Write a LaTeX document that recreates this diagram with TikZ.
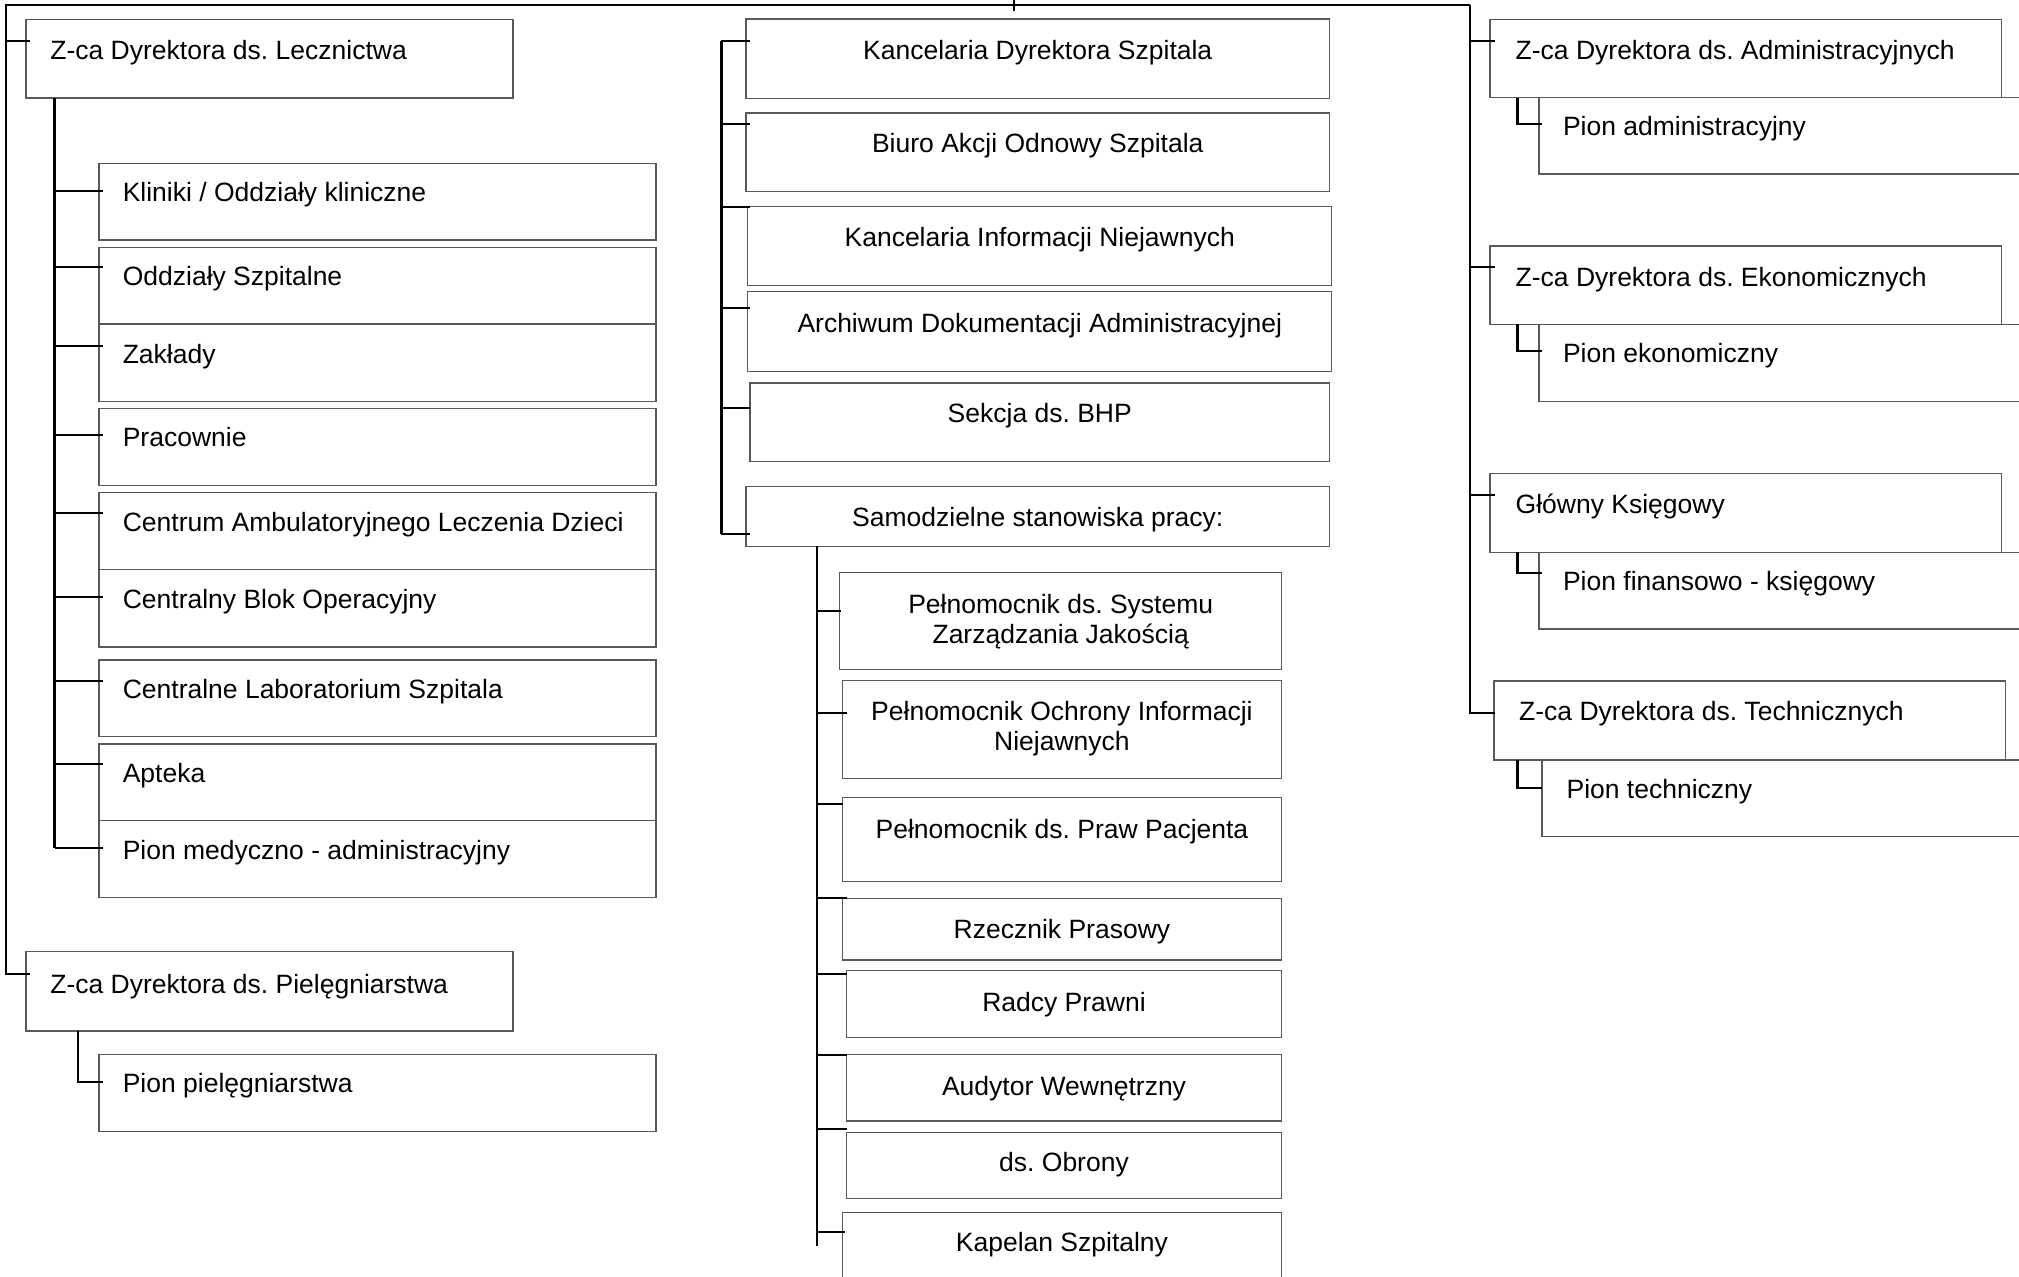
\documentclass[tikz,border=0pt]{standalone}
\usepackage{fontspec}
\setmainfont{Liberation Sans}
\frenchspacing
\tikzset{
  box/.style={draw=black!65, line width=1.3pt, rectangle, inner sep=0pt, outer sep=0pt},
  txt/.style={inner sep=0pt, outer sep=0pt, font=\fontsize{26.5}{31}\selectfont\frenchspacing, text=black},
  conn/.style={draw=black, line width=2.3pt},
}
\newcommand\mybx[5]{\node[box, anchor=north west, minimum width={(#4-(#2))*1pt}, minimum height={(#5-(#3))*1pt}] (#1) at (#2,#3) {};}
\newcommand\tlab[4]{\node[txt, anchor=base west] (#1) at (#2,#3) {#4};}
\newcommand\tcen[4]{\node[txt, anchor=base] (#1) at (#2,#3) {#4};}
\newcommand\mystub[3]{\coordinate (#1-c) at (#3); \draw[conn] (#1-c -| #2) -- (#1-c);}
\begin{document}
\begin{tikzpicture}[x=1pt,y=-1pt]
\useasboundingbox (0,0) rectangle (2019,1277);
\clip (0,0) rectangle (2019,1277);
% ---------------- left column ----------------
\mybx{lecz}{26}{19.3}{513}{98}
\tlab{t-lecz}{50.4}{59.3}{Z-ca Dyrektora ds. Lecznictwa}
\mybx{kl}{99}{163.3}{656}{240}
\tlab{t-kl}{122.8}{201.8}{Kliniki / Oddziały kliniczne}
\mybx{od}{99}{247.3}{656}{324}
\tlab{t-od}{122.8}{285.5}{Oddziały Szpitalne}
\mybx{za}{99}{324}{656}{401.7}
\tlab{t-za}{122.8}{363.3}{Zakłady}
\mybx{pr}{99}{408.3}{656}{485.7}
\tlab{t-pr}{122.8}{446.7}{Pracownie}
\mybx{ce}{99}{492.7}{656}{569.3}
\tlab{t-ce}{122.8}{531}{Centrum Ambulatoryjnego Leczenia Dzieci}
\mybx{cb}{99}{569.3}{656}{647}
\tlab{t-cb}{122.8}{608.3}{Centralny Blok Operacyjny}
\mybx{cl}{99}{660}{656}{736.7}
\tlab{t-cl}{122.8}{698.3}{Centralne Laboratorium Szpitala}
\mybx{ap}{99}{744}{656}{820.7}
\tlab{t-ap}{122.8}{782.3}{Apteka}
\mybx{pm}{99}{820.7}{656}{897.3}
\tlab{t-pm}{122.8}{859.3}{Pion medyczno - administracyjny}
\mybx{piel}{26}{951.7}{513}{1031}
\tlab{t-piel}{50.4}{993}{Z-ca Dyrektora ds. Pielęgniarstwa}
\mybx{pp}{99}{1054.3}{656}{1131.7}
\tlab{t-pp}{122.8}{1092}{Pion pielęgniarstwa}
% ---------------- middle column ----------------
\mybx{kd}{746}{19}{1329.5}{98.2}
\tcen{t-kd}{1037.75}{59}{Kancelaria Dyrektora Szpitala}
\mybx{ba}{746}{112.9}{1329.5}{191.8}
\tcen{t-ba}{1037.75}{152.9}{Biuro Akcji Odnowy Szpitala}
\mybx{ki}{747.8}{206.4}{1331.7}{285.7}
\tcen{t-ki}{1039.75}{246.4}{Kancelaria Informacji Niejawnych}
\mybx{ar}{747.8}{291.8}{1331.7}{371.4}
\tcen{t-ar}{1039.75}{332}{Archiwum Dokumentacji Administracyjnej}
\mybx{bhp}{750}{382.9}{1329.5}{461.8}
\tcen{t-bhp}{1039.75}{422.5}{Sekcja ds. BHP}
\mybx{sa}{746}{486.4}{1329.5}{546.4}
\tcen{t-sa}{1037.75}{526.8}{Samodzielne stanowiska pracy:}
\mybx{p1}{839.7}{572.7}{1281.7}{669.3}
\tcen{t-p1a}{1060.7}{613.3}{Pełnomocnik ds. Systemu}
\tcen{t-p1b}{1060.7}{643.3}{Zarządzania Jakością}
\mybx{p2}{842.2}{680.7}{1281.7}{778.7}
\tcen{t-p2a}{1061.95}{720}{Pełnomocnik Ochrony Informacji}
\tcen{t-p2b}{1061.95}{750.7}{Niejawnych}
\mybx{p3}{842.2}{797.3}{1281.7}{881.7}
\tcen{t-p3}{1061.95}{838.3}{Pełnomocnik ds. Praw Pacjenta}
\mybx{rz}{842.2}{898.3}{1281.7}{960}
\tcen{t-rz}{1061.95}{938.3}{Rzecznik Prasowy}
\mybx{rp}{846.3}{970.7}{1281.7}{1037.7}
\tcen{t-rp}{1064}{1011.7}{Radcy Prawni}
\mybx{au}{846.3}{1054.3}{1281.7}{1121}
\tcen{t-au}{1064}{1095}{Audytor Wewnętrzny}
\mybx{ob}{846.3}{1132.7}{1281.7}{1198.3}
\tcen{t-ob}{1064}{1171.7}{ds. Obrony}
\mybx{kp}{842.2}{1212.7}{1281.7}{1300}
\tcen{t-kp}{1061.95}{1251.7}{Kapelan Szpitalny}
% ---------------- right column ----------------
\mybx{zad}{1490}{19.3}{2001.3}{97.7}
\tlab{t-zad}{1515.7}{59.3}{Z-ca Dyrektora ds. Administracyjnych}
\mybx{pad}{1539}{97.7}{2040}{174}
\tlab{t-pad}{1563}{135}{Pion administracyjny}
\mybx{zek}{1490}{246}{2001.3}{324.3}
\tlab{t-zek}{1515.7}{286}{Z-ca Dyrektora ds. Ekonomicznych}
\mybx{pek}{1539}{324.3}{2040}{401.7}
\tlab{t-pek}{1563}{362.7}{Pion ekonomiczny}
\mybx{gk}{1490}{473.3}{2001.3}{552.3}
\tlab{t-gk}{1515.7}{513.5}{Główny Księgowy}
\mybx{pf}{1539}{552.3}{2040}{629}
\tlab{t-pf}{1563}{590.7}{Pion finansowo - księgowy}
\mybx{zt}{1494}{681}{2005.2}{760}
\tlab{t-zt}{1519.2}{720}{Z-ca Dyrektora ds. Technicznych}
\mybx{pt}{1542}{760}{2040}{836.7}
\tlab{t-pt}{1566.6}{798.3}{Pion techniczny}
% ---------------- connectors ----------------
\coordinate (topL) at (6,5);
\coordinate (topR) at (1470.3,5);
\coordinate (tickT) at (1014,0);
\coordinate (tickB) at (1014,11);
\draw[conn] (tickT) -- (tickB);
% left trunk
\coordinate (lecz-c) at (30,40.7);
\coordinate (piel-c) at (30,974);
\draw[conn] (topR) -- (topL) -- (topL |- piel-c) -- (piel-c);
\draw[conn] (topL |- lecz-c) -- (lecz-c);
% Lecznictwa subtree
\coordinate (lt) at (54.5,98);
\mystub{kl}{lt}{103,191}
\mystub{od}{lt}{103,267.3}
\mystub{za}{lt}{103,345.7}
\mystub{pr}{lt}{103,435}
\mystub{ce}{lt}{103,513.3}
\mystub{cb}{lt}{103,596.7}
\mystub{cl}{lt}{103,680.7}
\mystub{ap}{lt}{103,764.3}
\mystub{pm}{lt}{103,847.7}
\draw[conn] (lt) -- (lt |- pm-c);
% Pielegniarstwa subtree
\coordinate (pt0) at (78,1031);
\coordinate (pp-c) at (102.7,1081.7);
\draw[conn] (pt0) -- (pt0 |- pp-c) -- (pp-c);
% middle bracket
\coordinate (mt) at (721.4,41);
\mystub{kd}{mt}{750.4,41}
\mystub{ba}{mt}{750.4,124.3}
\mystub{ki}{mt}{750.4,207}
\mystub{ar}{mt}{750.4,307.9}
\mystub{bhp}{mt}{750.4,408.2}
\mystub{sa}{mt}{750.4,534}
\draw[conn] (mt) -- (mt |- sa-c);
% Samodzielne subtree
\coordinate (st) at (817,546.4);
\coordinate (stEnd) at (817,1246);
\mystub{p1}{st}{841,610.7}
\mystub{p2}{st}{847,713.3}
\mystub{p3}{st}{843,804}
\mystub{rz}{st}{847,897.7}
\mystub{rp}{st}{847,974}
\mystub{au}{st}{847,1055.3}
\mystub{ob}{st}{847,1129.3}
\mystub{kp}{st}{845,1231.7}
\draw[conn] (st) -- (stEnd);
% right trunk
\coordinate (zt-c) at (1494.7,713.3);
\draw[conn] (topR) -- (topR |- zt-c) -- (zt-c);
\mystub{zad}{topR}{1494.7,40.7}
\mystub{zek}{topR}{1494.7,267.3}
\mystub{gk}{topR}{1494.7,495}
% right sub connectors
\coordinate (pad-c) at (1542,124.3);
\coordinate (pek-c) at (1542,351);
\coordinate (pf-c) at (1542,572.7);
\coordinate (pt-c) at (1542,788.3);
\coordinate (rx) at (1517.6,0);
\draw[conn] (rx |- zad.south) -- (rx |- pad-c) -- (pad-c);
\draw[conn] (rx |- zek.south) -- (rx |- pek-c) -- (pek-c);
\draw[conn] (rx |- gk.south) -- (rx |- pf-c) -- (pf-c);
\draw[conn] (rx |- zt.south) -- (rx |- pt-c) -- (pt-c);
\end{tikzpicture}
\end{document}
